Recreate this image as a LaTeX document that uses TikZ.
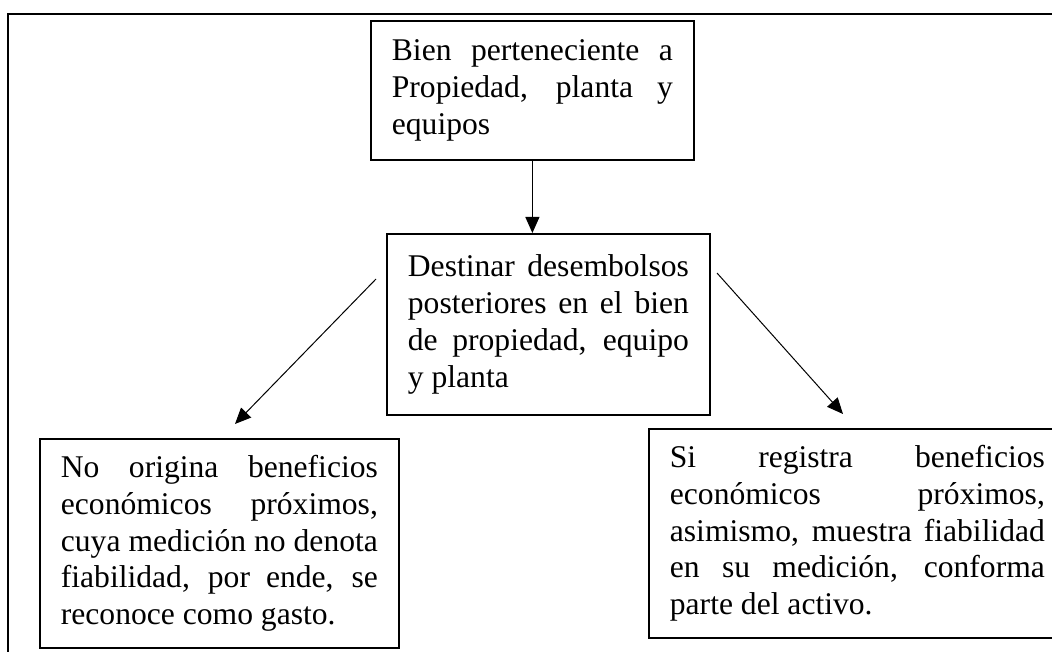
\documentclass[tikz,border=0pt]{standalone}
\usepackage{fontspec}
\setmainfont{Liberation Serif}
\usetikzlibrary{arrows.meta}
\newcommand{\fila}[1]{{\spaceskip=0pt\xspaceskip=0pt\makebox[\ancho][s]{#1}}}

\begin{document}
\begin{tikzpicture}[x=1pt,y=-1pt,
    caja/.style={draw,line width=1.8pt,anchor=north west,inner xsep=21pt,inner ysep=0pt,align=justify,
      text width=#1,execute at begin node={\def\ancho{#1}},font=\fontsize{31.6}{36.7}\selectfont},
    flecha/.style={line width=1pt,-{Triangle[length=16pt,width=14pt]}}]
    \useasboundingbox (0,0) rectangle (1052,652);
    \clip (0,0) rectangle (1052,652);
    \draw[line width=2.4pt] (8,14) rectangle (1075,675);
    % cajas
    \node[caja=281pt,minimum height=139pt] (bien) at (370,20) {\fila{Bien perteneciente a}\\ \fila{Propiedad, planta y}\\ equipos};
    \node[caja=281pt,minimum height=181pt] (desemb) at (386,233) {\fila{Destinar desembolsos}\\ \fila{posteriores en el bien}\\ \fila{de propiedad, equipo}\\ y planta};
    \node[caja=317pt,minimum height=209pt] (gasto) at (39,438) {\fila{No origina beneficios}\\ \fila{económicos próximos,}\\ \fila{cuya medición no denota}\\ \fila{fiabilidad, por ende, se}\\ reconoce como gasto.};
    \node[caja=375pt,minimum height=209pt] (activo) at (648,428) {\fila{Si registra beneficios}\\ \fila{económicos próximos,}\\ \fila{asimismo, muestra fiabilidad}\\ \fila{en su medición, conforma}\\ parte del activo.};
    % flechas
    \coordinate (izq1) at (376,279);
    \coordinate (izq2) at (235,424);
    \coordinate (der1) at (717,273);
    \coordinate (der2) at (843,414);
    \draw[flecha] (bien.south) -- (bien.south |- desemb.north);
    \draw[flecha] (izq1) -- (izq2);
    \draw[flecha] (der1) -- (der2);
\end{tikzpicture}
\end{document}
